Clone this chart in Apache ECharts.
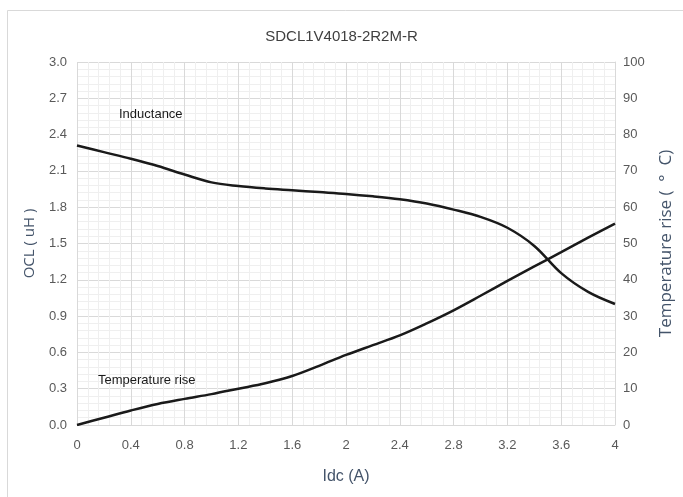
<!DOCTYPE html>
<html>
<head>
<meta charset="utf-8">
<script src="https://cdn.jsdelivr.net/npm/echarts@6/dist/echarts.min.js"></script>
<style>
html,body{margin:0;padding:0;background:#fff;}
#c{width:683px;height:497px;}
</style>
</head>
<body>
<div id="c"></div>
<script>
const titleText = 'SDCL1V4018-2R2M-R';
const xName = 'Idc (A)';
const leftName = 'OCL ( uH )';
const rightName = 'Temperature rise (  \u00b0  C)';
const inductanceLabel = 'Inductance';
const tempLabel = 'Temperature rise';

const idc = [0, 0.2, 0.4, 0.6, 0.8, 1.0, 1.2, 1.4, 1.6, 1.8, 2.0, 2.2, 2.4, 2.6, 2.8, 3.0, 3.2, 3.4, 3.6, 3.8, 4.0];
const inductance = [2.31, 2.255, 2.20, 2.14, 2.07, 2.005, 1.975, 1.955, 1.94, 1.925, 1.91, 1.89, 1.865, 1.83, 1.78, 1.72, 1.63, 1.48, 1.255, 1.10, 1.0];
const tempRise = [0, 2.0, 4.0, 5.8, 7.2, 8.5, 10.0, 11.5, 13.5, 16.3, 19.3, 22.0, 24.7, 28.0, 31.6, 35.6, 39.7, 43.7, 47.6, 51.6, 55.5];

const sans = '"Liberation Sans", Arial, sans-serif';
const nameFont = '"Open Sans", sans-serif';
const chart = echarts.init(document.getElementById('c'));

const gridLine = {show: true, lineStyle: {color: '#d9d9d9', width: 1}};
const minorLine = {show: true, lineStyle: {color: '#efefef', width: 1}};
const noteStyle = {fontFamily: sans, fontSize: 13, fontWeight: 'normal', color: '#1a1a1a'};

chart.setOption({
  animation: false,
  backgroundColor: '#fff',
  title: [{
    text: titleText, left: 'center', top: 24,
    textStyle: {fontFamily: sans, fontSize: 15, fontWeight: 'normal', color: '#404040'}
  }, {
    text: inductanceLabel, left: 114, top: 103, textStyle: noteStyle
  }, {
    text: tempLabel, left: 93, top: 369, textStyle: noteStyle
  }],
  grid: {left: 77, right: 63, top: 62, bottom: 72},
  xAxis: {
    type: 'value', min: 0, max: 4, interval: 0.4,
    name: xName, nameLocation: 'middle', nameGap: 44,
    nameTextStyle: {fontFamily: sans, fontSize: 16, color: '#44546a'},
    axisLine: {show: false}, axisTick: {show: false},
    axisLabel: {fontFamily: sans, fontSize: 13, color: '#595959', margin: 14,
      formatter: v => (Math.round(v * 10) / 10).toString()},
    splitLine: gridLine,
    minorTick: {show: false, splitNumber: 5},
    minorSplitLine: minorLine
  },
  yAxis: [{
    type: 'value', min: 0, max: 3, interval: 0.3,
    name: leftName, nameLocation: 'middle', nameGap: 40, nameRotate: 90,
    nameTextStyle: {fontFamily: nameFont, fontSize: 15, color: '#44546a'},
    axisLine: {show: false}, axisTick: {show: false},
    axisLabel: {fontFamily: sans, fontSize: 13, color: '#595959', margin: 10,
      formatter: v => v.toFixed(1)},
    splitLine: gridLine,
    minorTick: {show: false, splitNumber: 5},
    minorSplitLine: minorLine
  }, {
    type: 'value', min: 0, max: 100, interval: 10, position: 'right',
    name: rightName, nameLocation: 'middle', nameGap: 43, nameRotate: 90,
    nameTextStyle: {fontFamily: nameFont, fontSize: 17, color: '#44546a'},
    axisLine: {show: true, lineStyle: {color: '#d9d9d9'}}, axisTick: {show: false},
    axisLabel: {fontFamily: sans, fontSize: 13, color: '#595959', margin: 8},
    splitLine: {show: false}
  }],
  graphic: [
    {type: 'rect', shape: {x: 7.5, y: 10.5, width: 700, height: 500},
     style: {fill: 'none', stroke: '#d9d9d9', lineWidth: 1}, silent: true, z: -1}
  ],
  series: [{
    type: 'line', name: inductanceLabel, yAxisIndex: 0,
    data: idc.map((x, i) => [x, inductance[i]]),
    smooth: 0.35, showSymbol: false,
    lineStyle: {color: '#1a1a1a', width: 2.5}
  }, {
    type: 'line', name: tempLabel, yAxisIndex: 1,
    data: idc.map((x, i) => [x, tempRise[i]]),
    smooth: 0.35, showSymbol: false,
    lineStyle: {color: '#1a1a1a', width: 2.5}
  }]
});
</script>
</body>
</html>
